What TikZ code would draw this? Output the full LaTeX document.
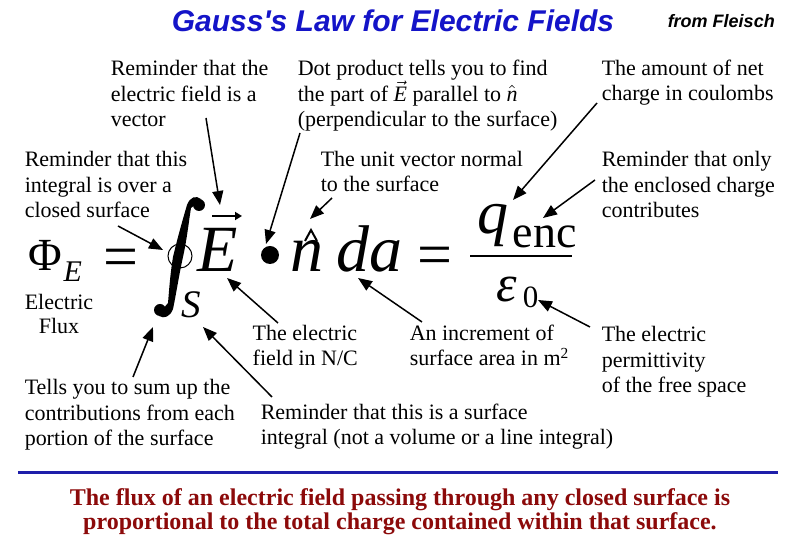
\documentclass[tikz,border=0pt]{standalone}
\usepackage{fontspec}
\setmainfont{Liberation Serif}
\newfontfamily\headfont{Liberation Sans}
\newfontfamily\tailfont{Liberation Serif Bold}
\usetikzlibrary{arrows.meta}
\definecolor{headblue}{RGB}{20,20,200}
\definecolor{ruleblue}{RGB}{30,30,170}
\definecolor{tailred}{RGB}{140,10,10}
\begin{document}
\begin{tikzpicture}[x=.5pt,y=-.5pt,>={Triangle[length=7pt,width=5.5pt]},line width=.75pt,
  note/.style={anchor=base west,align=left,inner sep=0pt,font=\fontsize{11}{12.75}\selectfont},
  sym/.style={anchor=base west,inner sep=0pt},
  big/.style={sym,font=\fontsize{33}{33}\selectfont\itshape},
  eqsign/.style={anchor=base,inner sep=0pt,font=\fontsize{31}{31}\selectfont}]
  \useasboundingbox (0,0) rectangle (800,550);
  \fill[white] (0,0) rectangle (800,550);
  \node[anchor=base,inner sep=0pt,text=headblue,font=\headfont\bfseries\itshape\fontsize{15}{15}\selectfont] (head) at (393,32) {Gauss's Law for Electric Fields};
  \node[sym,font=\headfont\bfseries\itshape\fontsize{9}{9}\selectfont] (src) at (667,28) {from Fleisch};
  \coordinate (s1) at (206,118); \coordinate (e1) at (220,205);
  \coordinate (s2) at (300,133); \coordinate (e2) at (266,244);
  \coordinate (s3) at (597,103); \coordinate (e3) at (513,200);
  \coordinate (s4) at (118,226); \coordinate (e4) at (163,250);
  \coordinate (s5) at (332,198); \coordinate (e5) at (310,219);
  \coordinate (s6) at (595,180); \coordinate (e6) at (543,218);
  \coordinate (s7) at (278,323); \coordinate (e7) at (227,278);
  \coordinate (s8) at (422,322); \coordinate (e8) at (358,278);
  \coordinate (s9) at (590,327); \coordinate (e9) at (538,300);
  \coordinate (s10) at (133,377); \coordinate (e10) at (153,327);
  \coordinate (s11) at (272,397); \coordinate (e11) at (203,327);
  \coordinate (v0) at (212,216); \coordinate (v1) at (242,216);
  \coordinate (h0) at (305,241); \coordinate (h1) at (311,230); \coordinate (h2) at (317,241);
  \coordinate (f0) at (470,256); \coordinate (f1) at (572,256);
  \node[sym,font=\fontsize{23}{23}\selectfont] (phi) at (28,271) {Φ};
  \node[sym,font=\fontsize{15}{15}\selectfont\itshape] (phisub) at (63,282) {E};
  \node[eqsign] (eqa) at (121,278) {=};
  \fill (201,199) .. controls (196,195) and (190,197) .. (187,205)
    .. controls (182,222) and (177,240) .. (173,257)
    .. controls (170,275) and (169,292) .. (168,303)
    -- (163,309) -- (159,316)
    .. controls (164,319) and (170,317) .. (173,309)
    .. controls (176,295) and (179,275) .. (183,257)
    .. controls (187,239) and (189,220) .. (191,208)
    -- (195,205) -- cycle;
  \fill (199,205) circle[radius=6];
  \fill (160,310) circle[radius=6];
  \node[circle,draw,inner sep=0pt,minimum size=12pt,line width=.5pt] (ring) at (180,256) {};
  \node[big] (E) at (197,272) {E};
  \node[sym,font=\fontsize{19.5}{19.5}\selectfont\itshape] (S) at (181,318) {S};
  \node[circle,fill,inner sep=0pt,minimum size=9pt] (dotp) at (270,255) {};
  \node[big] (n) at (290,272) {n};
  \node[big] (dA) at (336,272) {da};
  \node[eqsign] (eqb) at (435,276) {=};
  \node[sym,font=\fontsize{31}{31}\selectfont\itshape] (q) at (477,234) {q};
  \node[sym,font=\fontsize{23}{23}\selectfont] (enc) at (512,248) {enc};
  \node[sym,font=\fontsize{26}{26}\selectfont\itshape] (eps) at (496,302) {ε};
  \node[sym,font=\fontsize{15.5}{15.5}\selectfont] (zero) at (522,308) {0};
  \draw[-{Triangle[length=3.5pt,width=4pt]},line width=1pt] (v0) -- (v1);
  \draw[line width=1pt] (h0) -- (h1) -- (h2);
  \draw[line width=1pt] (f0) -- (f1);
  \node[note] (lvec) at (110,127) {Reminder that the\\electric field is a\\vector};
  \node[note] (ldot) at (297,127) {Dot product tells you to find\\the part of $\vec{\textit{E}}$ parallel to $\hat{\textit{n}}$\\(perpendicular to the surface)};
  \node[note] (lnet) at (601,101) {The amount of net\\charge in coulombs};
  \node[note] (lint) at (24,218) {Reminder that this\\integral is over a\\closed surface};
  \node[note] (lnrm) at (320,192) {The unit vector normal\\to the surface};
  \node[note] (lenc) at (601,218) {Reminder that only\\the enclosed charge\\contributes};
  \node[anchor=base,align=center,inner sep=0pt,font=\fontsize{11}{12}\selectfont] (lflux) at (59,334) {Electric\\Flux};
  \node[note] (lfield) at (252,366) {The electric\\field in N/C};
  \node[note] (lda) at (409,366) {An increment of\\surface area in m\textsuperscript{2}};
  \node[note] (lperm) at (601,393) {The electric\\permittivity\\of the free space};
  \node[note] (lsum) at (24,446) {Tells you to sum up the\\contributions from each\\portion of the surface};
  \node[note] (lsurf) at (260,445) {Reminder that this is a surface\\integral (not a volume or a line integral)};
  \draw[->] (s1)--(e1); \draw[->] (s2)--(e2); \draw[->] (s3)--(e3);
  \draw[->] (s4)--(e4); \draw[->] (s5)--(e5); \draw[->] (s6)--(e6);
  \draw[->] (s7)--(e7); \draw[->] (s8)--(e8); \draw[->] (s9)--(e9);
  \draw[->] (s10)--(e10); \draw[->] (s11)--(e11);
  \draw[ruleblue,line width=1.5pt] (18,473) -- (778,473);
  \node[anchor=base,align=center,inner sep=0pt,text=tailred,font=\tailfont\fontsize{12}{10.85}\selectfont] (tail) at (400,530) {The flux of an electric field passing through any closed surface is\\proportional to the total charge contained within that surface.};
\end{tikzpicture}
\end{document}
